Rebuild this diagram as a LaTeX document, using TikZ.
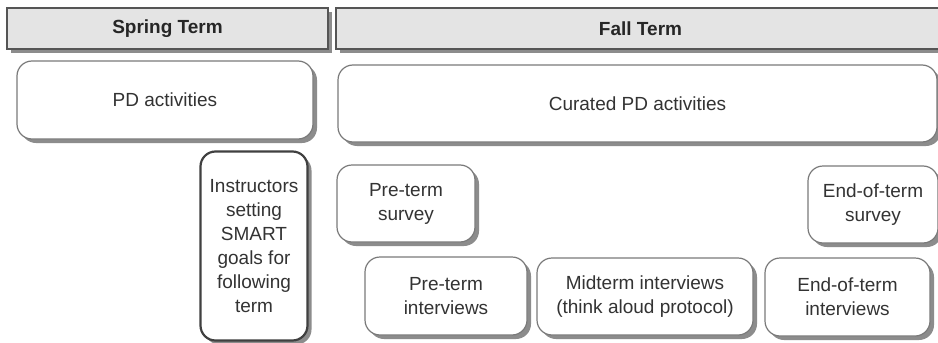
\documentclass[tikz,border=0pt]{standalone}
\usepackage{fontspec}
\setmainfont{Liberation Sans}
\usetikzlibrary{shadows}
\definecolor{hdrfill}{HTML}{E4E4E4}
\definecolor{hdrline}{HTML}{555555}
\definecolor{boxline}{HTML}{7A7A7A}
\definecolor{shadowgray}{HTML}{8C8C8C}
\definecolor{txt}{HTML}{333333}
\tikzset{
  hdr/.style={draw=hdrline, line width=1.2pt, fill=hdrfill, inner sep=0pt,
    general shadow={fill=shadowgray, shadow xshift=4pt, shadow yshift=-4pt},
    font=\fontsize{19}{24}\selectfont\bfseries, text=black!85},
  rbox/.style={draw=boxline, line width=1.2pt, fill=white, rounded corners=15pt, inner sep=0pt,
    general shadow={fill=shadowgray, shadow xshift=4pt, shadow yshift=-4pt},
    align=center, font=\fontsize{19}{24}\selectfont, text=txt},
  thickbox/.style={rbox, draw=black!75, line width=2.2pt}
}
\begin{document}
\begin{tikzpicture}[x=1pt,y=-1pt]
\clip (0,0) rectangle (938,343);
\fill[white] (0,0) rectangle (938,343);
\node[hdr, minimum width=321pt, minimum height=41pt] (spring) at (167.5,28.5) {Spring Term};
\node[hdr, minimum width=609pt, minimum height=41pt] (fall) at (640.5,28.5) {Fall Term};
\node[rbox, minimum width=296pt, minimum height=78pt] (pd) at (165,100) {PD activities};
\node[rbox, minimum width=599pt, minimum height=77pt] (cpd) at (637.5,103.5) {Curated PD activities};
\node[thickbox, minimum width=107pt, minimum height=189pt] (instr) at (254,246) {Instructors\\setting\\SMART\\goals for\\following\\term};
\node[rbox, minimum width=138pt, minimum height=77pt] (pts) at (406,203.5) {Pre-term\\survey};
\node[rbox, minimum width=130pt, minimum height=77pt] (ets) at (873,204.5) {End-of-term\\survey};
\node[rbox, minimum width=162pt, minimum height=78pt] (pti) at (446,296) {Pre-term\\interviews};
\node[rbox, minimum width=216pt, minimum height=77pt] (mti) at (645,296.5) {Midterm interviews\\(think aloud protocol)};
\node[rbox, minimum width=165pt, minimum height=78pt] (eti) at (847.5,297) {End-of-term\\interviews};
\end{tikzpicture}
\end{document}
